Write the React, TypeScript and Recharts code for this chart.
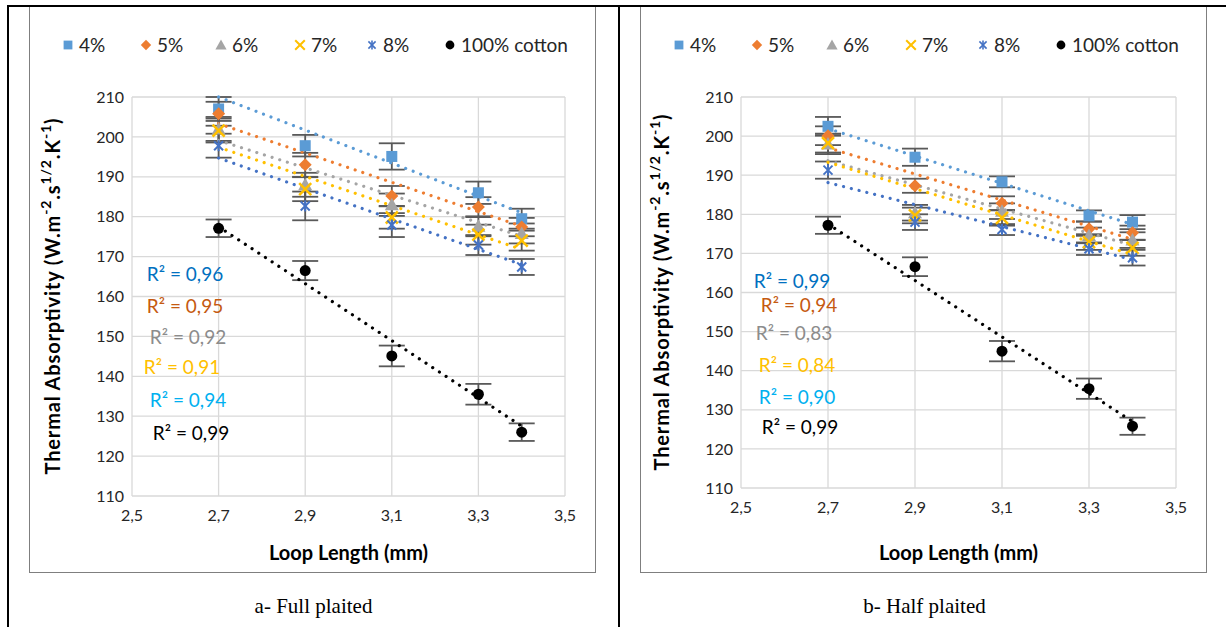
import React from 'react';
import { ScatterChart, Scatter, XAxis, YAxis, CartesianGrid, ErrorBar, Label } from 'recharts';

// loop lengths (mm) shared by every series
const loopLengths = [2.7, 2.9, 3.1, 3.3, 3.4];
const trendX = [2.7, 3.4];
const xTicks = [2.5, 2.7, 2.9, 3.1, 3.3, 3.5];
const yTicks = [110, 120, 130, 140, 150, 160, 170, 180, 190, 200, 210];

const seriesNames = ['4%', '5%', '6%', '7%', '8%', '100% cotton'];
const seriesColors = ['#5B9BD5', '#ED7D31', '#A5A5A5', '#FFC000', '#4472C4', '#000000'];
const r2Colors = ['#0070C0', '#C55A11', '#8C8C8C', '#FFC000', '#00B0F0', '#000000'];

// a- Full plaited
const full4 = [207, 197.8, 195.1, 186, 179.5];
const full5 = [205.8, 193, 185.2, 182.4, 177.4];
const full6 = [202, 188, 183, 177.6, 175.8];
const full7 = [201.6, 186.9, 179.8, 175.5, 174];
const full8 = [197.8, 182.7, 177.9, 172.9, 167.4];
const fullCotton = [177.1, 166.5, 145.1, 135.5, 126];
const fullErr4 = [3, 2.7, 3.3, 2.8, 2.5];
const fullErr5 = [3, 3, 2.5, 2.5, 2.3];
const fullErr6 = [3, 3, 2.8, 2.5, 2.5];
const fullErr7 = [3, 3, 2.8, 2.5, 2.5];
const fullErr8 = [3, 3.6, 3, 2.5, 2];
const fullErrCotton = [2.2, 2.4, 2.6, 2.6, 2.2];
const fullTrend4 = [210, 181];
const fullTrend5 = [203.3, 177.6];
const fullTrend6 = [199.1, 175.1];
const fullTrend7 = [197.4, 171.8];
const fullTrend8 = [194.7, 168];
const fullTrendCotton = [177.5, 127.5];
const fullR2 = ['0,96', '0,95', '0,92', '0,91', '0,94', '0,99'];

// b- Half plaited
const half4 = [202.5, 194.6, 188.3, 179.6, 178];
const half5 = [200.1, 187.3, 182.8, 176.3, 175.3];
const half6 = [198, 180.4, 180.8, 174.6, 173.4];
const half7 = [198.2, 179.7, 179.1, 172.9, 171.4];
const half8 = [191.3, 178, 176.1, 171.2, 168.9];
const halfCotton = [177.2, 166.6, 145, 135.4, 125.8];
const halfErr4 = [2.4, 2.2, 1.4, 1.4, 1.8];
const halfErr5 = [2.4, 1.8, 1.8, 1.8, 1.8];
const halfErr6 = [2.6, 2, 2, 2, 2];
const halfErr7 = [2.4, 2, 2, 2, 2];
const halfErr8 = [2.2, 2, 1.4, 1.6, 2];
const halfErrCotton = [2.2, 2.4, 2.6, 2.6, 2.2];
const halfTrend4 = [201.9, 177.4];
const halfTrend5 = [197, 173.6];
const halfTrend6 = [193.7, 172.1];
const halfTrend7 = [193.3, 169.7];
const halfTrend8 = [188.1, 168.4];
const halfTrendCotton = [177.5, 127];
const halfR2 = ['0,99', '0,94', '0,83', '0,84', '0,90', '0,99'];

const FONT = 'Lato, "Open Sans", sans-serif';
// legend item offsets inside the chart box
const legendLeft = [32, 110, 185, 264, 336, 414];

const toPoints = (vals: number[], errs: number[]) =>
  loopLengths.map((x, i) => ({ x, y: vals[i], err: errs[i] }));
const toTrend = (vals: number[]) => trendX.map((x, i) => ({ x, y: vals[i] }));

const Marker = ({ kind, cx, cy, size = 1 }: any) => {
  if (cx == null || cy == null) return <g />;
  const s = size;
  switch (kind) {
    case 0:
      return <rect x={cx - 5.5 * s} y={cy - 5.5 * s} width={11 * s} height={11 * s} fill={seriesColors[0]} />;
    case 1:
      return <polygon points={`${cx},${cy - 6.5 * s} ${cx + 6.5 * s},${cy} ${cx},${cy + 6.5 * s} ${cx - 6.5 * s},${cy}`} fill={seriesColors[1]} />;
    case 2:
      return <polygon points={`${cx},${cy - 7 * s} ${cx + 7 * s},${cy + 5.5 * s} ${cx - 7 * s},${cy + 5.5 * s}`} fill={seriesColors[2]} />;
    case 3:
      return (
        <g stroke={seriesColors[3]} strokeWidth={2.5 * s}>
          <line x1={cx - 6 * s} y1={cy - 6 * s} x2={cx + 6 * s} y2={cy + 6 * s} />
          <line x1={cx - 6 * s} y1={cy + 6 * s} x2={cx + 6 * s} y2={cy - 6 * s} />
        </g>
      );
    case 4:
      return (
        <g stroke={seriesColors[4]} strokeWidth={2 * s}>
          <line x1={cx - 4.5 * s} y1={cy - 4.5 * s} x2={cx + 4.5 * s} y2={cy + 4.5 * s} />
          <line x1={cx - 4.5 * s} y1={cy + 4.5 * s} x2={cx + 4.5 * s} y2={cy - 4.5 * s} />
          <line x1={cx} y1={cy - 5.5 * s} x2={cx} y2={cy + 5.5 * s} />
        </g>
      );
    default:
      return <circle cx={cx} cy={cy} r={5.5 * s} fill="#000" />;
  }
};

const fmtX = (v: number) => v.toFixed(1).replace('.', ',');

type PanelProps = {
  left: number;
  values: number[][];
  errors: number[][];
  trends: number[][];
  r2: string[];
  r2Pos: number[][];
  caption: string;
  marginLeft: number;
  marginBottom: number;
  xTitleDy: number;
};

function Panel({ left, values, errors, trends, r2, r2Pos, caption, marginLeft, marginBottom, xTitleDy }: PanelProps) {
  return (
    <>
      <div
        style={{
          position: 'absolute', left, top: 6, width: 567, height: 567,
          border: '1px solid #7F7F7F', boxSizing: 'border-box', background: '#fff',
        }}
      >
        <ScatterChart width={565} height={565} margin={{ top: 90, right: 30, left: marginLeft, bottom: marginBottom }}>
          <CartesianGrid stroke="#D9D9D9" strokeWidth={1.3} />
          <XAxis
            dataKey="x" type="number" domain={[2.5, 3.5]} ticks={xTicks} tickFormatter={fmtX}
            axisLine={false} tickLine={false} tickMargin={8} height={50}
            tick={{ fontSize: 16, fill: '#262626', fontFamily: FONT }}
          >
            <Label
              content={({ viewBox }: any) => (
                <text x={viewBox.x + viewBox.width / 2} y={viewBox.y + xTitleDy} textAnchor="middle"
                  dominantBaseline="central" fontFamily={FONT} fontWeight={700} fontSize={20} fill="#000">
                  Loop Length (mm)
                </text>
              )}
            />
          </XAxis>
          <YAxis
            dataKey="y" type="number" domain={[110, 210]} ticks={yTicks} interval={0}
            axisLine={false} tickLine={false} width={60}
            tick={{ fontSize: 16, fill: '#262626', fontFamily: FONT }}
          >
            <Label
              content={({ viewBox }: any) => {
                const cx = viewBox.x - 20;
                const cy = viewBox.y + viewBox.height / 2;
                return (
                  <text x={cx} y={cy} transform={`rotate(-90 ${cx} ${cy})`} textAnchor="middle"
                    dominantBaseline="central" fontFamily={FONT} fontWeight={700} fontSize={20} fill="#000"
                    textLength={356} lengthAdjust="spacing">
                    Thermal Absorptivity (W.m
                    <tspan dy={-7} fontSize={14}>-2</tspan>
                    <tspan dy={7}>.s</tspan>
                    <tspan dy={-7} fontSize={14}>1/2</tspan>
                    <tspan dy={7}>.K</tspan>
                    <tspan dy={-7} fontSize={14}>-1</tspan>
                    <tspan dy={7}>)</tspan>
                  </text>
                );
              }}
            />
          </YAxis>
          {trends.map((t, i) => (
            <Scatter
              key={`t${i}`} data={toTrend(t)} isAnimationActive={false} shape={() => <g />}
              line={{ stroke: seriesColors[i], strokeWidth: 3.2, strokeDasharray: '0.01 8', strokeLinecap: 'round' }}
            />
          ))}
          {values.map((v, i) => (
            <Scatter
              key={`s${i}`} data={toPoints(v, errors[i])} isAnimationActive={false}
              shape={(p: any) => <Marker kind={i} cx={p.cx} cy={p.cy} />}
            >
              <ErrorBar dataKey="err" direction="y" width={13} stroke="#595959" strokeWidth={1.8} />
            </Scatter>
          ))}
        </ScatterChart>

        {/* legend */}
        {seriesNames.map((n, i) => (
          <div key={n} style={{
            position: 'absolute', left: legendLeft[i], top: 26, display: 'flex', alignItems: 'center',
            fontFamily: FONT, fontSize: 19, color: '#262626', whiteSpace: 'nowrap',
          }}>
            <svg width={12} height={14} style={{ marginRight: 5 }}>
              <Marker kind={i} cx={6} cy={7} size={0.8} />
            </svg>
            <span>{n}</span>
          </div>
        ))}

        {/* R² annotations */}
        {r2.map((r, i) => (
          <div key={i} style={{
            position: 'absolute', left: r2Pos[i][0] - left - 50, top: r2Pos[i][1] - 6 - 13, width: 100,
            textAlign: 'center', fontFamily: FONT, fontSize: 19, color: r2Colors[i], whiteSpace: 'nowrap',
          }}>
            R² = {r}
          </div>
        ))}
      </div>
      <div style={{
        position: 'absolute', left: left - 21, top: 594, width: 611, textAlign: 'center',
        fontFamily: '"Liberation Serif", serif', fontSize: 21, color: '#000',
      }}>
        {caption}
      </div>
    </>
  );
}

export default function App() {
  return (
    <div style={{ position: 'absolute', left: 0, top: 0, width: 1226, height: 627, background: '#fff', overflow: 'hidden' }}>
      <Panel
        left={29}
        values={[full4, full5, full6, full7, full8, fullCotton]}
        errors={[fullErr4, fullErr5, fullErr6, fullErr7, fullErr8, fullErrCotton]}
        trends={[fullTrend4, fullTrend5, fullTrend6, fullTrend7, fullTrend8, fullTrendCotton]}
        r2={fullR2}
        r2Pos={[[184, 274], [184, 306], [187, 337], [181, 367], [187, 400], [190, 433]]}
        caption="a- Full plaited"
        marginLeft={42}
        marginBottom={26}
        xTitleDy={56}
      />
      <Panel
        left={640}
        values={[half4, half5, half6, half7, half8, halfCotton]}
        errors={[halfErr4, halfErr5, halfErr6, halfErr7, halfErr8, halfErrCotton]}
        trends={[halfTrend4, halfTrend5, halfTrend6, halfTrend7, halfTrend8, halfTrendCotton]}
        r2={halfR2}
        r2Pos={[[791, 281], [798, 305], [793, 333], [796, 365], [796, 397], [799, 427]]}
        caption="b- Half plaited"
        marginLeft={40}
        marginBottom={34}
        xTitleDy={64}
      />
      {/* table borders */}
      <div style={{ position: 'absolute', left: 7, top: 5, width: 1219, height: 2, background: '#000' }} />
      <div style={{ position: 'absolute', left: 7, top: 5, width: 2, height: 622, background: '#000' }} />
      <div style={{ position: 'absolute', left: 618, top: 5, width: 2, height: 622, background: '#000' }} />
    </div>
  );
}
